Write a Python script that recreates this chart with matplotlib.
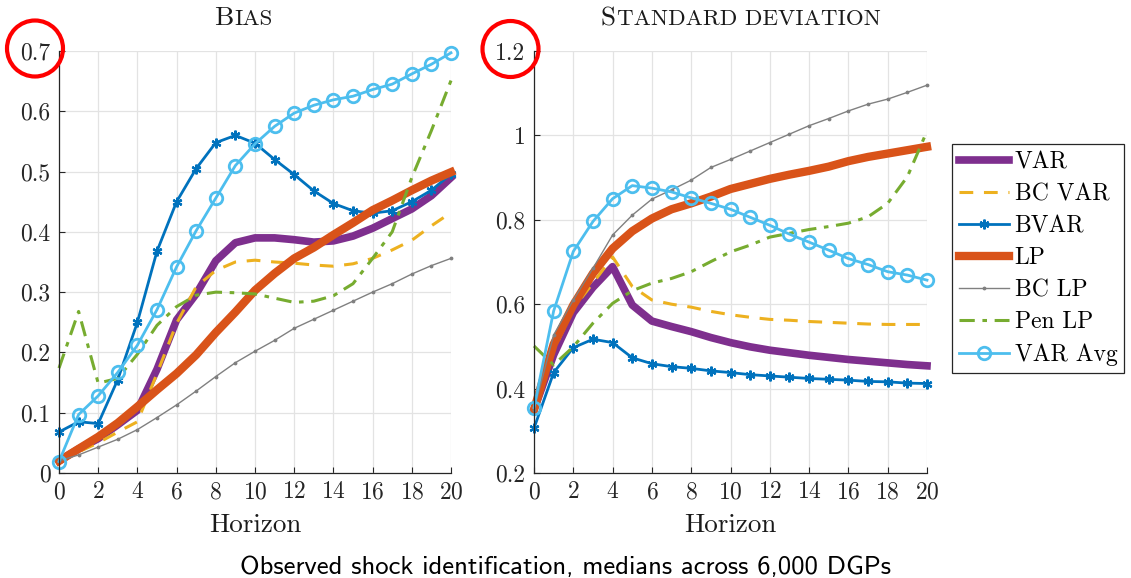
import numpy as np
import matplotlib
matplotlib.use("Agg")
import matplotlib.pyplot as plt
from matplotlib.patches import Ellipse
from matplotlib.offsetbox import TextArea, HPacker, AnchoredOffsetbox

# ===============================
# Data: medians across DGPs, horizons 0..20
# ===============================
horizon = np.arange(21)

series_names = ["VAR", "BC VAR", "BVAR", "LP", "BC LP", "Pen LP", "VAR Avg"]

# --- Bias ---
bias_var = [0.02, 0.04, 0.057, 0.08, 0.104, 0.172, 0.254, 0.297, 0.352, 0.382, 0.39,
            0.39, 0.387, 0.383, 0.385, 0.393, 0.406, 0.422, 0.438, 0.46, 0.49]
bias_bcvar = [0.02, 0.035, 0.05, 0.068, 0.085, 0.165, 0.248, 0.309, 0.336, 0.35, 0.353,
              0.35, 0.348, 0.345, 0.343, 0.347, 0.356, 0.37, 0.386, 0.41, 0.432]
bias_bvar = [0.068, 0.085, 0.082, 0.155, 0.25, 0.368, 0.45, 0.505, 0.548, 0.56, 0.547,
             0.52, 0.495, 0.468, 0.447, 0.435, 0.431, 0.435, 0.45, 0.469, 0.496]
bias_lp = [0.02, 0.04, 0.06, 0.083, 0.11, 0.138, 0.165, 0.196, 0.233, 0.267, 0.303,
           0.331, 0.356, 0.374, 0.395, 0.415, 0.436, 0.452, 0.469, 0.485, 0.499]
bias_bclp = [0.02, 0.03, 0.043, 0.056, 0.072, 0.092, 0.113, 0.136, 0.16, 0.183, 0.202,
             0.22, 0.24, 0.255, 0.27, 0.285, 0.3, 0.314, 0.33, 0.344, 0.356]
bias_penlp = [0.174, 0.268, 0.149, 0.157, 0.197, 0.245, 0.276, 0.295, 0.3, 0.299, 0.297,
              0.29, 0.283, 0.285, 0.294, 0.314, 0.356, 0.40, 0.49, 0.568, 0.651]
bias_varavg = [0.019, 0.097, 0.128, 0.167, 0.212, 0.271, 0.342, 0.402, 0.456, 0.51, 0.546,
               0.575, 0.597, 0.61, 0.619, 0.625, 0.636, 0.645, 0.662, 0.678, 0.697]

# --- Standard deviation ---
sd_var = [0.35, 0.48, 0.58, 0.64, 0.689, 0.598, 0.56, 0.547, 0.535, 0.521, 0.509,
          0.499, 0.491, 0.485, 0.479, 0.474, 0.469, 0.465, 0.461, 0.457, 0.454]
sd_bcvar = [0.35, 0.49, 0.59, 0.65, 0.712, 0.642, 0.61, 0.6, 0.593, 0.583, 0.575,
            0.569, 0.564, 0.562, 0.559, 0.557, 0.555, 0.553, 0.552, 0.552, 0.552]
sd_bvar = [0.306, 0.438, 0.497, 0.517, 0.509, 0.473, 0.459, 0.452, 0.448, 0.442, 0.438,
           0.433, 0.43, 0.427, 0.424, 0.422, 0.42, 0.417, 0.416, 0.413, 0.412]
sd_lp = [0.35, 0.505, 0.598, 0.673, 0.732, 0.773, 0.803, 0.825, 0.839, 0.855, 0.873,
         0.885, 0.897, 0.907, 0.916, 0.926, 0.939, 0.949, 0.957, 0.965, 0.973]
sd_bclp = [0.35, 0.527, 0.61, 0.685, 0.764, 0.811, 0.849, 0.871, 0.894, 0.924, 0.943,
           0.963, 0.983, 1.003, 1.023, 1.04, 1.058, 1.074, 1.086, 1.102, 1.119]
sd_penlp = [0.501, 0.456, 0.499, 0.555, 0.602, 0.632, 0.65, 0.661, 0.677, 0.701, 0.724,
            0.74, 0.759, 0.768, 0.777, 0.784, 0.792, 0.807, 0.839, 0.902, 1.01]
sd_varavg = [0.355, 0.584, 0.725, 0.796, 0.85, 0.881, 0.875, 0.866, 0.852, 0.839, 0.825,
             0.806, 0.787, 0.766, 0.747, 0.728, 0.708, 0.694, 0.677, 0.669, 0.657]

bias_series = [bias_var, bias_bcvar, bias_bvar, bias_lp, bias_bclp, bias_penlp, bias_varavg]
sd_series = [sd_var, sd_bcvar, sd_bvar, sd_lp, sd_bclp, sd_penlp, sd_varavg]

# MATLAB default colour order
styles = [
    dict(color='#7E2F8E', lw=5.5, ls='-'),
    dict(color='#EDB120', lw=2.2, ls=(0, (4.5, 3.5))),
    dict(color='#0072BD', lw=2.0, ls='-', marker=(6, 2, 0), ms=7, mew=1.6),
    dict(color='#D95319', lw=6.0, ls='-'),
    dict(color='#808080', lw=1.0, ls='-', marker='.', ms=3.5),
    dict(color='#77AC30', lw=2.2, ls=(0, (5, 2.5, 1.5, 2.5))),
    dict(color='#4DBEEE', lw=2.0, ls='-', marker='o', ms=9, mew=2.0, mfc='none'),
]

plt.rcParams['font.family'] = 'cmr10'
plt.rcParams['axes.formatter.use_mathtext'] = True

W, H = 1131, 578
fig = plt.figure(figsize=(W / 100, H / 100), dpi=100)

def px_axes(x0, x1, y0, y1):
    return fig.add_axes([x0 / W, 1 - y1 / H, (x1 - x0) / W, (y1 - y0) / H])

ax1 = px_axes(59, 451, 51, 473)
ax2 = px_axes(534, 927, 51, 473)

handles = []
for ax, data, ylim, yticks in [
        (ax1, bias_series, (0, 0.7), np.arange(0, 0.71, 0.1)),
        (ax2, sd_series, (0.2, 1.2), np.arange(0.2, 1.21, 0.2))]:
    hs = []
    for name, vals, st in zip(series_names, data, styles):
        h, = ax.plot(horizon, vals, label=name, clip_on=False, **st)
        hs.append(h)
    handles = hs
    ax.set_xlim(0, 20)
    ax.set_ylim(*ylim)
    ax.set_xticks(np.arange(0, 21, 2))
    ax.set_yticks(yticks)
    ax.set_yticklabels([f"{v:g}" for v in np.round(yticks, 2)])
    ax.grid(True, color='#E3E3E3', lw=0.9)
    ax.set_axisbelow(True)
    for s in ['top', 'right']:
        ax.spines[s].set_visible(False)
    for s in ['left', 'bottom']:
        ax.spines[s].set_color('#262626')
        ax.spines[s].set_linewidth(0.9)
    ax.tick_params(direction='in', length=4, width=0.8, colors='#262626',
                   labelsize=17, pad=6)
    ax.set_xlabel("Horizon", fontsize=19.5, color='#1a1a1a', labelpad=7)

# Small-caps style titles
def smallcaps_title(cx, base_y, big, small):
    parts = [TextArea(big, textprops=dict(fontsize=19.5, family='cmr10', color='#1a1a1a')),
             TextArea(small, textprops=dict(fontsize=16.5, family='cmr10', color='#1a1a1a'))]
    box = HPacker(children=parts, align='baseline', pad=0, sep=1)
    anc = AnchoredOffsetbox(loc='lower center', child=box, pad=0, borderpad=0, frameon=False,
                            bbox_to_anchor=(cx / W, 1 - base_y / H),
                            bbox_transform=fig.transFigure)
    fig.add_artist(anc)

smallcaps_title(243, 30, "B", "IAS")
smallcaps_title(741, 30, "S", "TANDARD DEVIATION")

leg = fig.legend(handles=handles, labels=series_names, loc='upper left',
                 bbox_to_anchor=(952 / W, 1 - 144 / H), bbox_transform=fig.transFigure,
                 borderaxespad=0, fontsize=17, numpoints=1, handlelength=2.1,
                 handletextpad=0.25, labelspacing=0.42, borderpad=0.3,
                 fancybox=False, edgecolor='#262626', framealpha=1)
leg.get_frame().set_linewidth(0.9)

fig.text(565 / W, 1 - 574 / H, "Observed shock identification, medians across 6,000 DGPs",
         family='cmss10', fontsize=19.2, ha='center', va='baseline', color='black')

# Red circles highlighting the top tick labels
for cx, cy in [(35, 48.5), (510.5, 49)]:
    fig.add_artist(Ellipse((cx / W, 1 - cy / H), 56 / W, 56 / H, transform=fig.transFigure,
                           fill=False, ec='#FF0000', lw=3))

fig.savefig("out.png", dpi=100)
